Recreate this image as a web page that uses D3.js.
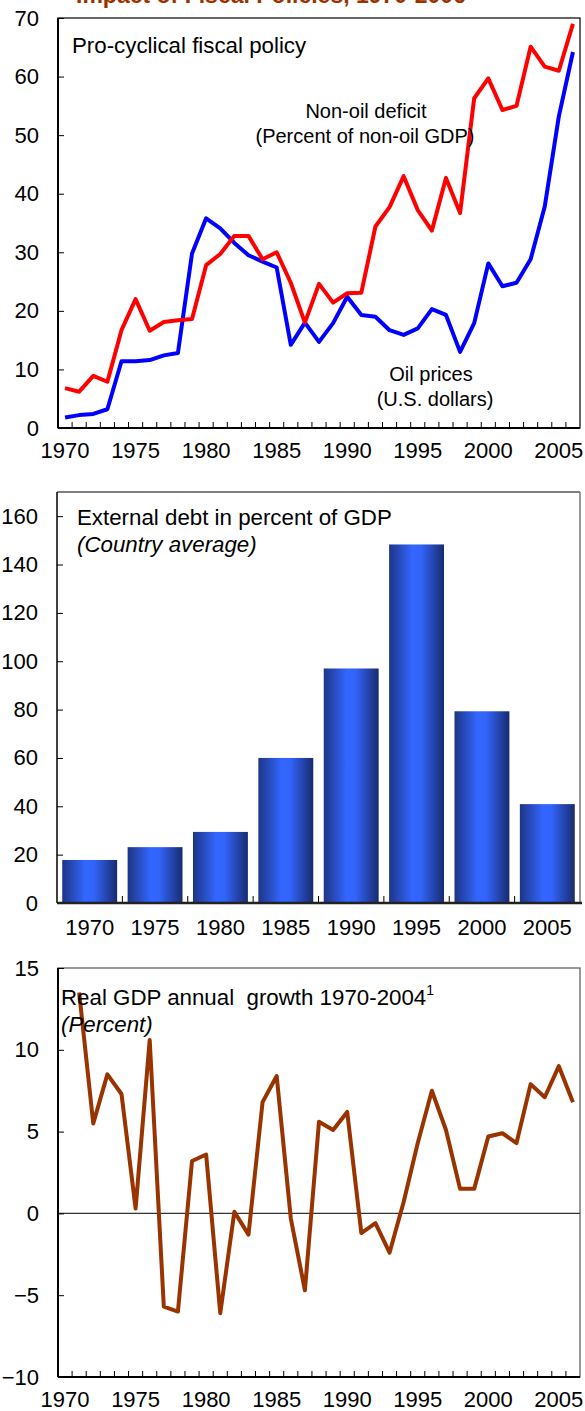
<!DOCTYPE html>
<html><head><meta charset="utf-8">
<script src="https://cdn.jsdelivr.net/npm/d3@7"></script>
<style>
body{margin:0;background:#fff}
svg{display:block}
text{font-family:"Liberation Sans",Arial,Helvetica,sans-serif;fill:#000}
</style>
</head><body>
<svg id="c" width="585" height="1411"></svg>
<script>
// ---------- DATA ----------
const years = [1970,1971,1972,1973,1974,1975,1976,1977,1978,1979,
               1980,1981,1982,1983,1984,1985,1986,1987,1988,1989,
               1990,1991,1992,1993,1994,1995,1996,1997,1998,1999,
               2000,2001,2002,2003,2004,2005,2006];
const nonOilDeficit = [6.8,6.2,8.9,7.9,16.7,22.0,16.6,18.1,18.4,18.6,
                       27.8,29.7,32.8,32.8,28.8,30.0,24.8,18.0,24.6,21.4,
                       23.0,23.1,34.4,37.7,43.0,37.2,33.7,42.7,36.7,56.3,
                       59.7,54.3,55.0,65.1,61.7,61.0,69.0];
const oilPrices = [1.8,2.2,2.4,3.2,11.4,11.4,11.6,12.4,12.8,29.8,
                   35.8,34.1,31.6,29.5,28.4,27.4,14.2,18.0,14.7,17.9,
                   22.4,19.3,19.0,16.7,15.9,17.0,20.3,19.3,13.0,17.9,
                   28.1,24.2,24.8,28.8,37.8,53.2,64.2];
const growthYears = [1971,1972,1973,1974,1975,1976,1977,1978,1979,1980,
                     1981,1982,1983,1984,1985,1986,1987,1988,1989,1990,
                     1991,1992,1993,1994,1995,1996,1997,1998,1999,2000,
                     2001,2002,2003,2004,2005,2006];
const gdpGrowth = [13.5,5.5,8.5,7.3,0.3,10.6,-5.7,-6.0,3.2,3.6,
                   -6.1,0.1,-1.3,6.8,8.4,-0.3,-4.7,5.6,5.1,6.2,
                   -1.2,-0.6,-2.4,0.7,4.3,7.5,5.1,1.5,1.5,4.7,
                   4.9,4.3,7.9,7.1,9.0,6.8];
const debtCategories = ["1970","1975","1980","1985","1990","1995","2000","2005"];
const externalDebt = [17.8,23.1,29.4,60.0,97.0,148.3,79.3,40.9];

const xLabelYears = [1970,1975,1980,1985,1990,1995,2000,2005];
const yTicks1 = [0,10,20,30,40,50,60,70];
const yTicks2 = [0,20,40,60,80,100,120,140,160];
const yTicks3 = [-10,-5,0,5,10,15];

// ---------- SETUP ----------
const svg = d3.select("#c");
const FS = 22;

// page title (cut off at top, as in the original)
svg.append("text").attr("x", 271).attr("y", 3).attr("text-anchor","middle")
  .style("font-size","23px").style("font-weight","bold").style("fill","#993300")
  .text("Impact of Fiscal Policies, 1970-2006");

function yAxis(g, y, ticks){
  g.call(d3.axisLeft(y).tickValues(ticks).tickSize(-6).tickPadding(19).tickFormat(d3.format("d")));
  g.select(".domain").remove();
  g.selectAll(".tick line").attr("stroke","#000");
  g.selectAll(".tick text").style("font-size",FS+"px").attr("font-family",null);
}
function yearXAxis(g, x){
  g.call(d3.axisBottom(x).tickValues(xLabelYears).tickSize(0).tickPadding(14));
  g.select(".domain").remove();
  g.selectAll(".tick text").style("font-size",FS+"px").attr("font-family",null);
  g.selectAll("line.bt").data(years.slice(1)).join("line").attr("class","bt")
    .attr("x1", d => x(d)).attr("x2", d => x(d)).attr("y1", 0).attr("y2", -6)
    .attr("stroke","#000");
}

// ---------- CHART 1 ----------
{
  const L=58, R=580, T=18, B=428;
  const x = d3.scaleBand().domain(years).range([L,R]).padding(0);
  const y = d3.scaleLinear().domain([0,70]).range([B,T]);
  const g = svg.append("g");
  g.append("rect").attr("x",L).attr("y",T).attr("width",R-L).attr("height",B-T)
    .attr("fill","none").attr("stroke","#000").attr("stroke-width",1.2);
  g.append("g").attr("transform",`translate(${L},0)`).call(gg=>yAxis(gg,y,yTicks1));
  g.append("g").attr("transform",`translate(0,${B})`).call(gg=>yearXAxis(gg,x));
  g.append("line").attr("x1",L).attr("x2",R).attr("y1",B).attr("y2",B).attr("stroke","#000").attr("stroke-width",2);
  g.append("line").attr("x1",L).attr("x2",L).attr("y1",T).attr("y2",B).attr("stroke","#000").attr("stroke-width",2);
  const cx = d => x(d) + x.bandwidth()/2;
  const line = vals => d3.line().x((d,i)=>cx(years[i])).y(d=>y(d))(vals);
  g.append("path").attr("d", line(oilPrices)).attr("fill","none").attr("stroke","#0000ff")
    .attr("stroke-width",4).attr("stroke-linejoin","round");
  g.append("path").attr("d", line(nonOilDeficit)).attr("fill","none").attr("stroke","#ff0000")
    .attr("stroke-width",4).attr("stroke-linejoin","round");
  g.append("text").attr("x",72).attr("y",53).style("font-size","22.3px").text("Pro-cyclical fiscal policy");
  g.append("text").attr("x",366).attr("y",118).attr("text-anchor","middle").style("font-size","20px").text("Non-oil deficit");
  g.append("text").attr("x",365).attr("y",143).attr("text-anchor","middle").style("font-size","20px").text("(Percent of non-oil GDP)");
  g.append("text").attr("x",431).attr("y",381).attr("text-anchor","middle").style("font-size","20px").text("Oil prices");
  g.append("text").attr("x",435).attr("y",406).attr("text-anchor","middle").style("font-size","20px").text("(U.S. dollars)");
}

// ---------- CHART 2 ----------
{
  const L=57, R=580, T=492, B=903;
  const x = d3.scaleBand().domain(debtCategories).range([L,R]).paddingInner(0.16).paddingOuter(0.08);
  const xb = d3.scaleBand().domain(debtCategories).range([L,R]).padding(0);
  const y = d3.scaleLinear().domain([0,170]).range([B,T]);
  const defs = svg.append("defs");
  const grad = defs.append("linearGradient").attr("id","barGrad").attr("x1","0%").attr("x2","100%").attr("y1","0%").attr("y2","0%");
  grad.append("stop").attr("offset","0%").attr("stop-color","#1d3585");
  grad.append("stop").attr("offset","42%").attr("stop-color","#3366ff");
  grad.append("stop").attr("offset","58%").attr("stop-color","#3264fa");
  grad.append("stop").attr("offset","100%").attr("stop-color","#182b6e");
  const g = svg.append("g");
  g.append("line").attr("x1",L).attr("x2",R).attr("y1",T).attr("y2",T).attr("stroke","#000").attr("stroke-width",1.2);
  g.append("line").attr("x1",R).attr("x2",R).attr("y1",T).attr("y2",B).attr("stroke","#777").attr("stroke-width",1.5);
  g.append("line").attr("x1",L).attr("x2",L).attr("y1",T).attr("y2",B).attr("stroke","#000").attr("stroke-width",1.5);
  g.append("g").attr("transform",`translate(${L},0)`).call(gg=>yAxis(gg,y,yTicks2));
  g.selectAll("rect.bar").data(externalDebt).join("rect").attr("class","bar")
    .attr("x",(d,i)=>x(debtCategories[i])).attr("width",x.bandwidth())
    .attr("y",d=>y(d)).attr("height",d=>B-y(d)).attr("fill","url(#barGrad)");
  const ax = g.append("g").attr("transform",`translate(0,${B})`)
    .call(d3.axisBottom(xb).tickSize(0).tickPadding(16));
  ax.select(".domain").remove();
  ax.selectAll(".tick text").style("font-size",FS+"px").attr("font-family",null);
  g.selectAll("line.bt").data(debtCategories.slice(1)).join("line").attr("class","bt")
    .attr("x1",d=>xb(d)).attr("x2",d=>xb(d)).attr("y1",B).attr("y2",B-7).attr("stroke","#000");
  g.append("line").attr("x1",L).attr("x2",R+2).attr("y1",B).attr("y2",B).attr("stroke","#222").attr("stroke-width",2.5);
  g.append("text").attr("x",77).attr("y",525).style("font-size","22.3px").text("External debt in percent of GDP");
  g.append("text").attr("x",77).attr("y",552).style("font-size","22.3px").style("font-style","italic").text("(Country average)");
}

// ---------- CHART 3 ----------
{
  const L=58, R=580, T=968, B=1377;
  const x = d3.scaleBand().domain(years).range([L,R]).padding(0);
  const y = d3.scaleLinear().domain([-10,15]).range([B,T]);
  const g = svg.append("g");
  g.append("rect").attr("x",L).attr("y",T).attr("width",R-L).attr("height",B-T)
    .attr("fill","none").attr("stroke","#555").attr("stroke-width",1.2);
  g.append("line").attr("x1",L).attr("x2",R).attr("y1",y(0)).attr("y2",y(0)).attr("stroke","#333").attr("stroke-width",1.2);
  g.append("g").attr("transform",`translate(${L},0)`).call(gg=>yAxis(gg,y,yTicks3));
  g.append("g").attr("transform",`translate(0,${B})`).call(gg=>yearXAxis(gg,x));
  g.append("line").attr("x1",L).attr("x2",R).attr("y1",B).attr("y2",B).attr("stroke","#000").attr("stroke-width",2);
  g.append("line").attr("x1",L).attr("x2",L).attr("y1",T).attr("y2",B).attr("stroke","#000").attr("stroke-width",2);
  const cx = d => x(d) + x.bandwidth()/2;
  g.append("path").attr("d", d3.line().x((d,i)=>cx(growthYears[i])).y(d=>y(d))(gdpGrowth))
    .attr("fill","none").attr("stroke","#993300").attr("stroke-width",4).attr("stroke-linejoin","round");
  const t = g.append("text").attr("x",61).attr("y",1005).style("font-size","22.3px");
  t.append("tspan").text("Real GDP annual\u00a0 growth 1970-2004");
  t.append("tspan").attr("dy",-10).style("font-size","14px").text("1");
  g.append("text").attr("x",61).attr("y",1032).style("font-size","22.3px").style("font-style","italic").text("(Percent)");
}
</script>
</body></html>
